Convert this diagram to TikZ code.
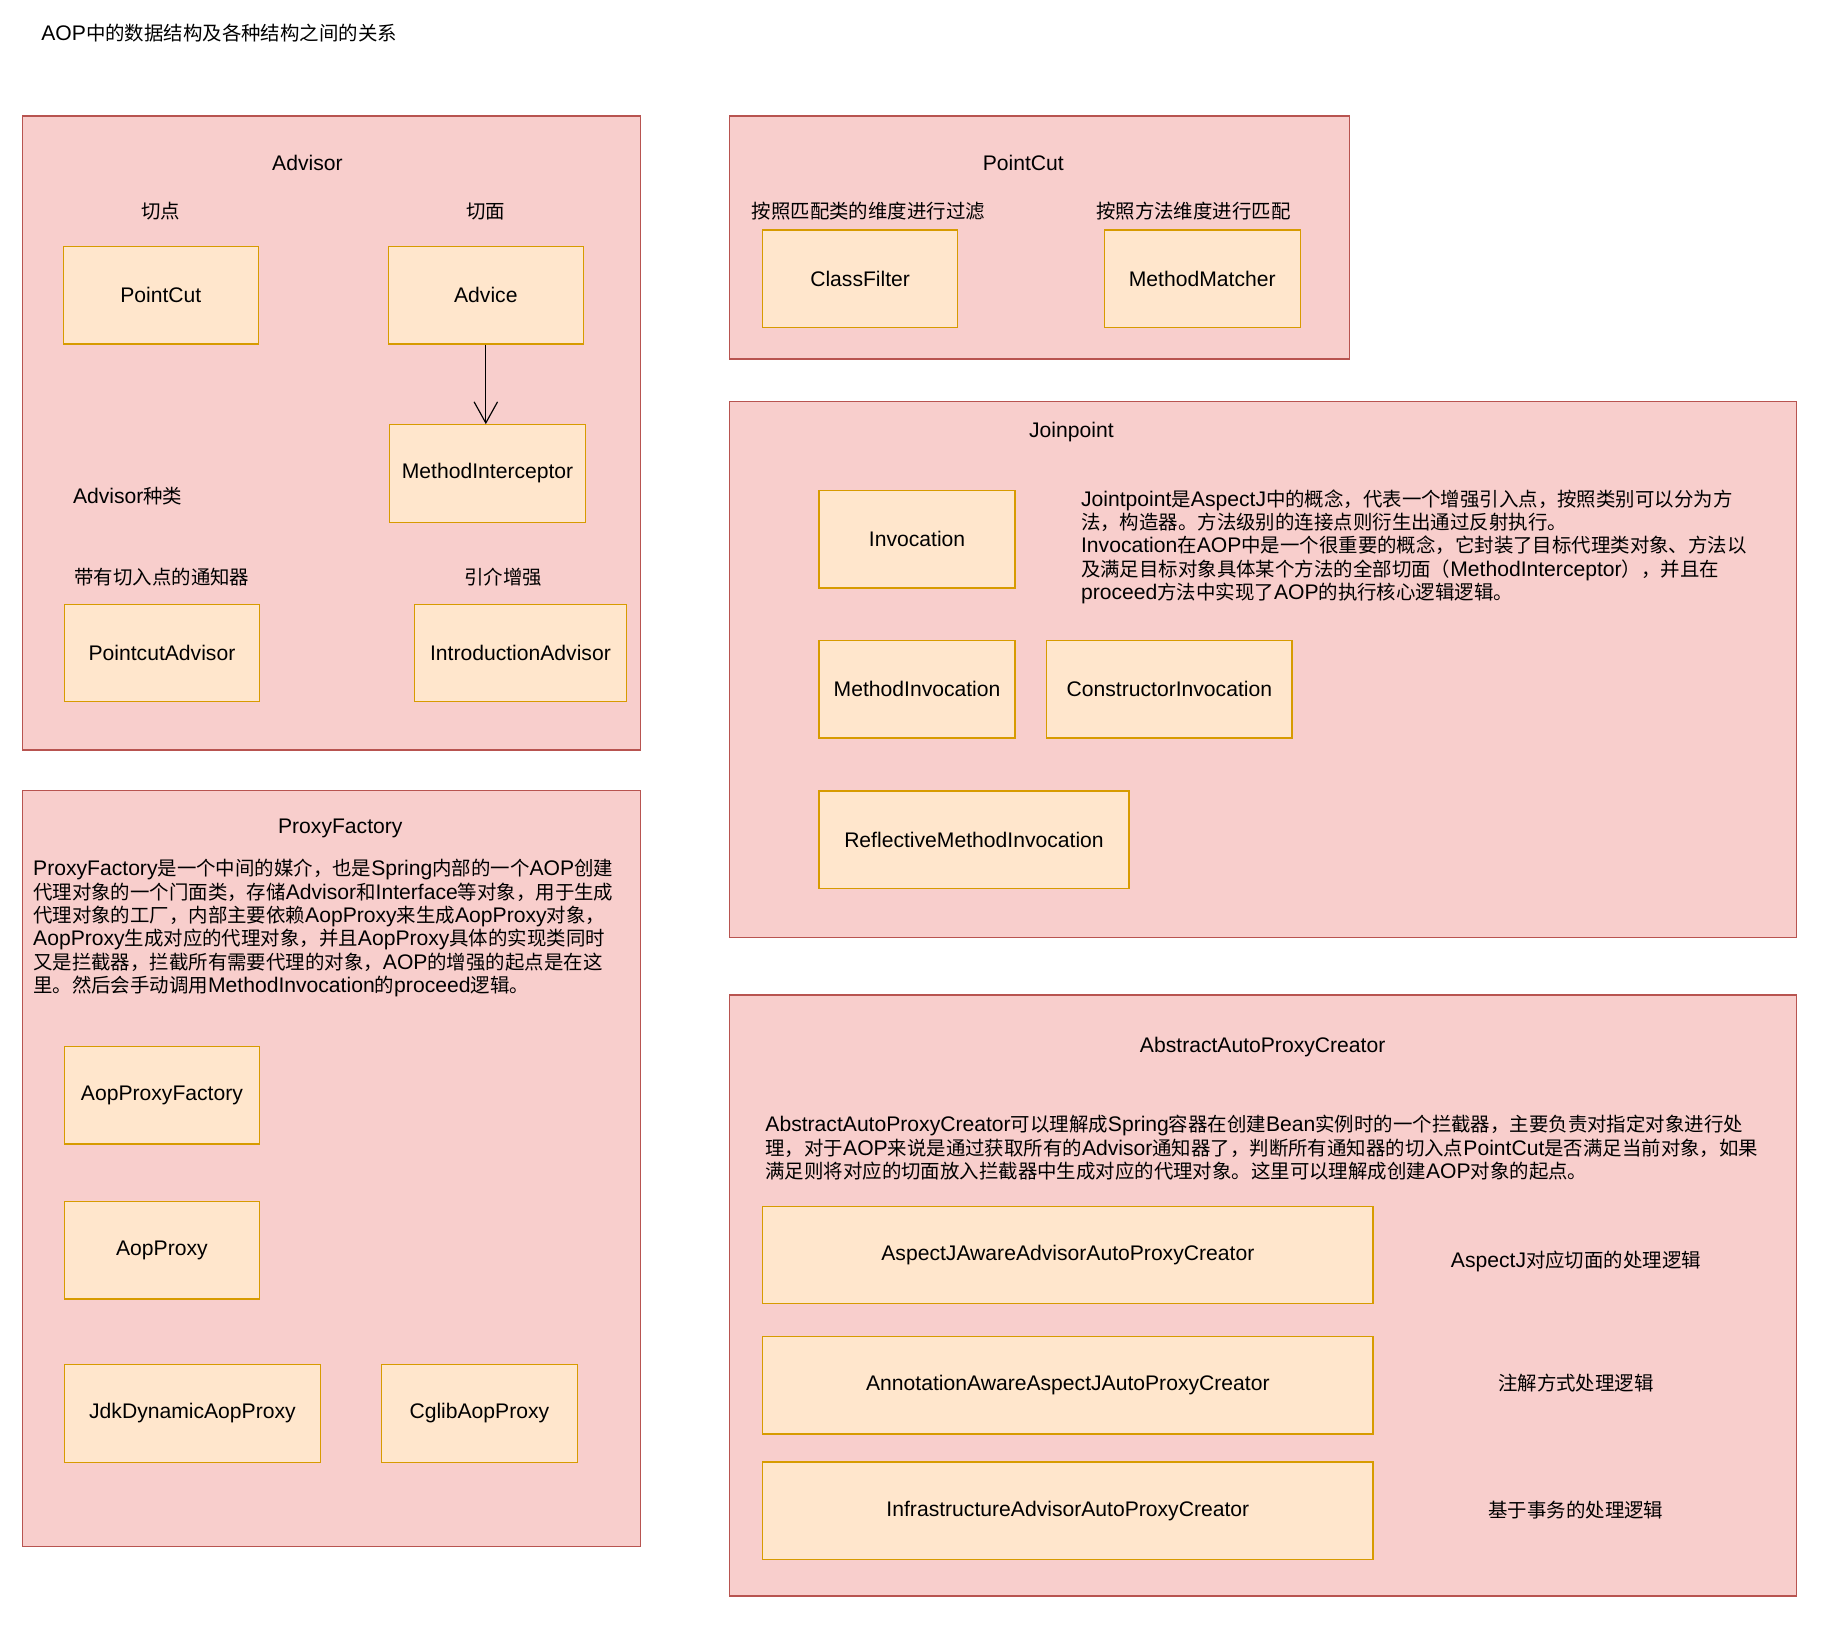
\documentclass[tikz,border=0pt]{standalone}
\usepackage{fontspec}
\usepackage{tikz}
\usetikzlibrary{arrows.meta}
\setmainfont{Liberation Sans}
\newfontfamily\cjkfont[Scale=0.92]{Noto Sans CJK SC}
% hanzi and full-width punctuation are set in the CJK face
\XeTeXinterchartokenstate=1
\newXeTeXintercharclass\hanzicls
\makeatletter
\def\sethanzi#1#2{\@tempcnta=#1\relax
  \loop\ifnum\@tempcnta<#2\relax
    \XeTeXcharclass\@tempcnta=\hanzicls
    \advance\@tempcnta\@ne
  \repeat}
\sethanzi{"3000}{"3040}
\sethanzi{"4E00}{"A000}
\sethanzi{"FF00}{"FFF0}
\makeatother
\XeTeXinterchartoks 0 \hanzicls = {\begingroup\cjkfont}
\XeTeXinterchartoks 4095 \hanzicls = {\begingroup\cjkfont}
\XeTeXinterchartoks \hanzicls 0 = {\endgroup}
\XeTeXinterchartoks \hanzicls 4095 = {\endgroup}
\newcommand\aoplbl{\fontsize{12.8pt}{15pt}\selectfont}
\newcommand\aoppara{\fontsize{12.8pt}{14.2pt}\selectfont}
\definecolor{aopred}{HTML}{F8CECC}
\definecolor{aopredline}{HTML}{B85450}
\definecolor{aopsand}{HTML}{FFE6CC}
\definecolor{aopsandline}{HTML}{D79B00}

\begin{document}
\begin{tikzpicture}[x=0.025cm,y=-0.025cm,
  panel/.style={draw=aopredline,fill=aopred,line width=0.8pt,inner sep=0pt},
  cls/.style={draw=aopsandline,fill=aopsand,line width=0.8pt,minimum height=2.075cm,inner sep=0pt,font=\aoplbl},
  note/.style={inner sep=0pt,font=\aoplbl},
  para/.style={inner sep=0pt,align=left,font=\aoppara}
]
\useasboundingbox (0,0) rectangle (1568,1389);
\node[note,anchor=west] (title) at (35,28) {AOP中的数据结构及各种结构之间的关系};

\node[panel,minimum width=13.175cm,minimum height=13.5cm] (advisorpanel) at (282.5,369) {};
\node[note] (advisortitle) at (262,139) {Advisor};
\node[note] (cutlabel) at (137,180) {切点};
\node[note] (aspectlabel) at (414,180) {切面};
\node[cls,minimum width=4.15cm] (pointcut) at (137,251.5) {PointCut};
\node[cls,minimum width=4.15cm] (advice) at (414,251.5) {Advice};
\node[cls,minimum width=4.175cm] (interceptor) at (415.5,403.5) {MethodInterceptor};
\draw[-{Straight Barb[length=0.45cm,width=0.5cm]},line width=0.7pt] (advice.south) -- (advice.south |- interceptor.north);
\node[note,anchor=west] (kindlabel) at (62,423) {Advisor种类};
\node[note] (pclabel) at (138,492) {带有切入点的通知器};
\node[note] (introlabel) at (429,492) {引介增强};
\node[cls,minimum width=4.15cm] (pcadvisor) at (138,556.5) {PointcutAdvisor};
\node[cls,minimum width=4.525cm] (introadvisor) at (443.5,556.5) {IntroductionAdvisor};

\node[panel,minimum width=13.2cm,minimum height=5.175cm] (cutpanel) at (886,202.5) {};
\node[note] (cuttitle) at (872,139) {PointCut};
\node[note] (classlabel) at (740,180) {按照匹配类的维度进行过滤};
\node[note] (methodlabel) at (1017,180) {按照方法维度进行匹配};
\node[cls,minimum width=4.15cm] (classfilter) at (733,237.5) {ClassFilter};
\node[cls,minimum width=4.175cm] (methodmatcher) at (1024.5,237.5) {MethodMatcher};

\node[panel,minimum width=22.725cm,minimum height=11.425cm] (joinpanel) at (1076.5,570.5) {};
\node[note] (jointitle) at (913,368) {Joinpoint};
\node[cls,minimum width=4.175cm] (invocation) at (781.5,459.5) {Invocation};
\node[para,anchor=west] (joinnote) at (921,466) {Jointpoint是AspectJ中的概念，代表一个增强引入点，按照类别可以分为方\\
法，构造器。方法级别的连接点则衍生出通过反射执行。\\
Invocation在AOP中是一个很重要的概念，它封装了目标代理类对象、方法以\\
及满足目标对象具体某个方法的全部切面（MethodInterceptor），并且在\\
proceed方法中实现了AOP的执行核心逻辑逻辑。};
\node[cls,minimum width=4.175cm] (methodinv) at (781.5,587.5) {MethodInvocation};
\node[cls,minimum width=5.225cm] (ctorinv) at (996.5,587.5) {ConstructorInvocation};
\node[cls,minimum width=6.6cm] (reflectinv) at (830,715.5) {ReflectiveMethodInvocation};

\node[panel,minimum width=13.175cm,minimum height=16.1cm] (proxypanel) at (282.5,996) {};
\node[note] (proxytitle) at (290,706) {ProxyFactory};
\node[para,anchor=west] (proxynote) at (28,791) {ProxyFactory是一个中间的媒介，也是Spring内部的一个AOP创建\\
代理对象的一个门面类，存储Advisor和Interface等对象，用于生成\\
代理对象的工厂，内部主要依赖AopProxy来生成AopProxy对象，\\
AopProxy生成对应的代理对象，并且AopProxy具体的实现类同时\\
又是拦截器，拦截所有需要代理的对象，AOP的增强的起点是在这\\
里。然后会手动调用MethodInvocation的proceed逻辑。};
\node[cls,minimum width=4.15cm] (aopfactory) at (138,933.5) {AopProxyFactory};
\node[cls,minimum width=4.15cm] (aopproxy) at (138,1065.5) {AopProxy};
\node[cls,minimum width=5.45cm] (jdkproxy) at (164,1204.5) {JdkDynamicAopProxy};
\node[cls,minimum width=4.175cm] (cglibproxy) at (408.5,1204.5) {CglibAopProxy};

\node[panel,minimum width=22.725cm,minimum height=12.8cm] (creatorpanel) at (1076.5,1104) {};
\node[note] (creatortitle) at (1076,892) {AbstractAutoProxyCreator};
\node[para,anchor=west] (creatornote) at (652,978) {AbstractAutoProxyCreator可以理解成Spring容器在创建Bean实例时的一个拦截器，主要负责对指定对象进行处\\
理，对于AOP来说是通过获取所有的Advisor通知器了，判断所有通知器的切入点PointCut是否满足当前对象，如果\\
满足则将对应的切面放入拦截器中生成对应的代理对象。这里可以理解成创建AOP对象的起点。};
\node[cls,minimum width=13cm] (aspectjcreator) at (910,1069.5) {AspectJAwareAdvisorAutoProxyCreator};
\node[note] (aspectjlabel) at (1343,1075) {AspectJ对应切面的处理逻辑};
\node[cls,minimum width=13cm] (annotationcreator) at (910,1180.5) {AnnotationAwareAspectJAutoProxyCreator};
\node[note] (annotationlabel) at (1343,1179) {注解方式处理逻辑};
\node[cls,minimum width=13cm] (infracreator) at (910,1287.5) {InfrastructureAdvisorAutoProxyCreator};
\node[note] (infralabel) at (1343,1287) {基于事务的处理逻辑};
\end{tikzpicture}
\end{document}
